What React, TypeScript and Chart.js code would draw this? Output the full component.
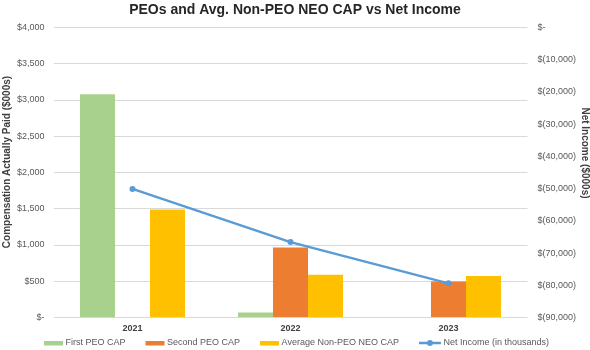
import React, { useEffect, useRef } from "react";
import { Chart, registerables } from "chart.js";

Chart.register(...registerables);

const categories = ["2021", "2022", "2023"];
const firstPeoCap = [3080, 70, null];
const secondPeoCap = [null, 965, 495];
const avgNonPeoNeoCap = [1490, 588, 573];
const netIncome = [-50100, -66600, -79400];

const seriesNames = [
  "First PEO CAP",
  "Second PEO CAP",
  "Average Non-PEO NEO CAP",
  "Net Income (in thousands)",
];
const colors = ["#A9D18E", "#ED7D31", "#FFC000", "#5B9BD5"];
const leftAxisTitle = "Compensation Actually Paid ($000s)";
const rightAxisTitle = "Net Income ($000s)";

const FONT = '"Liberation Sans", Arial, sans-serif';

const fmtLeft = (v: number) => (v === 0 ? "$-" : "$" + v.toLocaleString("en-US"));
const fmtRight = (v: number) =>
  v === 0 ? "$-" : v < 0 ? "$(" + Math.abs(v).toLocaleString("en-US") + ")" : "$" + v.toLocaleString("en-US");

const decorPlugin = {
  id: "decor",
  afterDraw(chart: any) {
    const ctx = chart.ctx as CanvasRenderingContext2D;
    ctx.save();
    // axis titles
    ctx.font = `bold 10px ${FONT}`;
    ctx.fillStyle = "#404040";
    ctx.textAlign = "center";
    ctx.textBaseline = "middle";
    ctx.save();
    ctx.translate(7, 162);
    ctx.rotate(-Math.PI / 2);
    ctx.fillText(leftAxisTitle, 0, 0);
    ctx.restore();
    ctx.save();
    ctx.translate(584.5, 153);
    ctx.rotate(Math.PI / 2);
    ctx.fillText(rightAxisTitle, 0, 0);
    ctx.restore();

    // legend
    ctx.font = `9px ${FONT}`;
    const boxW = 19;
    const lineW = 22;
    const gapText = 2.5;
    const gapItem = 20;
    const widths = seriesNames.map((n, i) => (i === 3 ? lineW : boxW) + gapText + ctx.measureText(n).width);
    const total = widths.reduce((a, b) => a + b, 0) + gapItem * (seriesNames.length - 1);
    let x = chart.width / 2 - total / 2 + 1.5;
    const y = 343;
    seriesNames.forEach((name, i) => {
      if (i < 3) {
        ctx.fillStyle = colors[i];
        ctx.fillRect(x, y - 2, boxW, 4.5);
        x += boxW + gapText;
      } else {
        ctx.strokeStyle = colors[i];
        ctx.lineWidth = 2.5;
        ctx.beginPath();
        ctx.moveTo(x, y);
        ctx.lineTo(x + lineW, y);
        ctx.stroke();
        ctx.fillStyle = colors[i];
        ctx.beginPath();
        ctx.arc(x + lineW / 2, y, 3, 0, Math.PI * 2);
        ctx.fill();
        x += lineW + gapText;
      }
      ctx.fillStyle = "#595959";
      ctx.textBaseline = "middle";
      ctx.textAlign = "left";
      ctx.fillText(name, x, y);
      x += ctx.measureText(name).width + gapItem;
    });
    ctx.restore();
  },
};

export default function App() {
  const ref = useRef<HTMLCanvasElement | null>(null);
  useEffect(() => {
    if (!ref.current) return;
    Chart.defaults.font.family = FONT;
    const chart = new Chart(ref.current, {
      type: "bar",
      data: {
        labels: categories,
        datasets: [
          {
            type: "line",
            label: seriesNames[3],
            data: netIncome,
            yAxisID: "y1",
            borderColor: colors[3],
            backgroundColor: colors[3],
            borderWidth: 2.5,
            pointRadius: 3,
            pointBackgroundColor: colors[3],
            pointBorderColor: colors[3],
            pointBorderWidth: 0,
            tension: 0,
            order: 0,
          } as any,
          {
            label: seriesNames[0],
            data: firstPeoCap,
            backgroundColor: colors[0],
            yAxisID: "y",
            order: 1,
          },
          {
            label: seriesNames[1],
            data: secondPeoCap,
            backgroundColor: colors[1],
            yAxisID: "y",
            order: 1,
          },
          {
            label: seriesNames[2],
            data: avgNonPeoNeoCap,
            backgroundColor: colors[2],
            yAxisID: "y",
            order: 1,
          },
        ],
      },
      options: {
        responsive: false,
        animation: false,
        devicePixelRatio: 1,
        layout: { padding: 0 },
        datasets: {
          bar: { barPercentage: 1, categoryPercentage: 0.665 },
        },
        plugins: {
          legend: { display: false },
          tooltip: { enabled: false },
          title: {
            display: true,
            text: "PEOs and Avg. Non-PEO NEO CAP vs Net Income",
            color: "#262626",
            font: { size: 14, weight: "bold", family: FONT },
            padding: { top: 1.5, bottom: 9.2 },
          },
        },
        scales: {
          x: {
            grid: { display: false, drawTicks: false },
            border: { display: false },
            ticks: {
              color: "#404040",
              font: { size: 9, weight: "bold", family: FONT },
              padding: 6,
              maxRotation: 0,
            },
            afterFit: (s: any) => {
              s.height = 32.5;
            },
          },
          y: {
            position: "left",
            min: 0,
            max: 4000,
            ticks: {
              stepSize: 500,
              color: "#595959",
              font: { size: 9, family: FONT },
              padding: 9,
              callback: (v: any) => fmtLeft(Number(v)),
            },
            grid: { color: "#D9D9D9", drawTicks: false, lineWidth: 1 },
            border: { display: false },
            afterFit: (s: any) => {
              s.width = 53.5;
            },
          },
          y1: {
            position: "right",
            min: -90000,
            max: 0,
            ticks: {
              stepSize: 10000,
              color: "#595959",
              font: { size: 9, family: FONT },
              padding: 10,
              callback: (v: any) => fmtRight(Number(v)),
            },
            grid: { display: false, drawTicks: false },
            border: { display: false },
            afterFit: (s: any) => {
              s.width = 62.5;
            },
          },
        },
      },
      plugins: [decorPlugin],
    });
    return () => chart.destroy();
  }, []);
  return (
    <canvas
      ref={ref}
      width={590}
      height={350}
      style={{ position: "fixed", left: 0, top: 0, width: 590, height: 350, display: "block" }}
    />
  );
}
